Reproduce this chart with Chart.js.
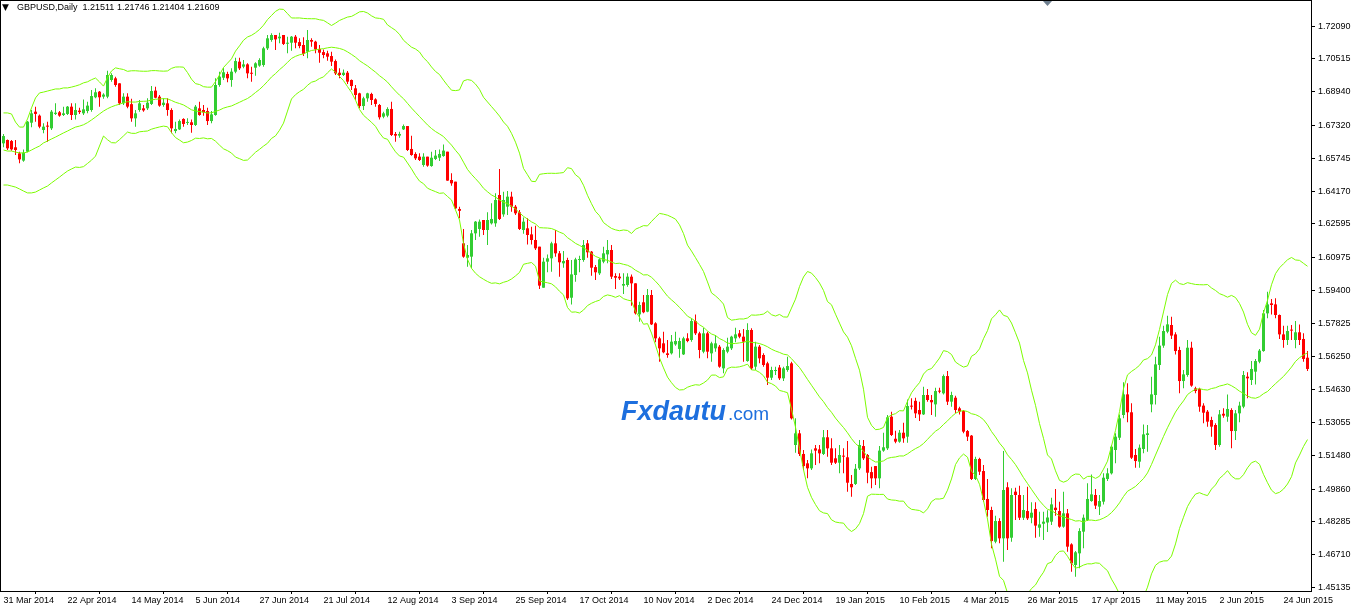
<!DOCTYPE html>
<html>
<head>
    <title>GBPUSD Daily</title>
    <meta charset="UTF-8">
    <script src="https://cdn.jsdelivr.net/npm/chart.js@4.4.1/dist/chart.umd.min.js"></script>
    <style>
        body { margin: 0; background-color: #fff; }
        canvas { display: block; }
    </style>
</head>
<body>
    <canvas id="priceChart" width="1351" height="608"></canvas>

    <script>
        // Axis labels
        var dateLabels = ['31 Mar 2014', '22 Apr 2014', '14 May 2014', '5 Jun 2014', '27 Jun 2014', '21 Jul 2014',
            '12 Aug 2014', '3 Sep 2014', '25 Sep 2014', '17 Oct 2014', '10 Nov 2014', '2 Dec 2014', '24 Dec 2014',
            '19 Jan 2015', '10 Feb 2015', '4 Mar 2015', '26 Mar 2015', '17 Apr 2015', '11 May 2015', '2 Jun 2015',
            '24 Jun 2015'];
        var priceTicks = [1.72090, 1.70515, 1.68940, 1.67320, 1.65745, 1.64170, 1.62595, 1.60975, 1.59400,
            1.57825, 1.56250, 1.54630, 1.53055, 1.51480, 1.49860, 1.48285, 1.46710, 1.45135];

        // Daily candles, one value per bar
        var opens = [
            1.6646,1.6662,1.6657,1.6627,1.6598,1.6563,1.6606,1.6745,1.6798,1.6779,
            1.6710,1.6731,1.6718,1.6787,1.6795,1.6782,1.6787,1.6822,1.6782,1.6803,
            1.6790,1.6801,1.6806,1.6867,1.6894,1.6870,1.6870,1.6950,1.6958,1.6934,
            1.6838,1.6870,1.6834,1.6766,1.6806,1.6814,1.6814,1.6835,1.6899,1.6870,
            1.6830,1.6838,1.6806,1.6705,1.6713,1.6763,1.6744,1.6747,1.6734,1.6814,
            1.6806,1.6801,1.6753,1.6782,1.6926,1.6961,1.6979,1.6950,1.6990,1.7038,
            1.7014,1.7025,1.6984,1.7009,1.7019,1.7022,1.7102,1.7142,1.7166,1.7150,
            1.7166,1.7124,1.7129,1.7158,1.7132,1.7118,1.7086,1.7142,1.7134,1.7099,
            1.7084,1.7078,1.7065,1.7041,1.6985,1.6974,1.6985,1.6950,1.6910,1.6886,
            1.6825,1.6862,1.6883,1.6857,1.6830,1.6774,1.6779,1.6811,1.6691,1.6683,
            1.6713,1.6729,1.6619,1.6595,1.6582,1.6542,1.6582,1.6537,1.6571,1.6577,
            1.6585,1.6606,1.6470,1.6462,1.6331,1.6166,1.6097,1.6102,1.6214,1.6235,
            1.6278,1.6230,1.6262,1.6262,1.6398,1.6305,1.6342,1.6390,1.6342,1.6315,
            1.6230,1.6238,1.6209,1.6182,1.6150,1.5953,1.6078,1.6094,1.6166,1.6118,
            1.6070,1.6086,1.5905,1.6014,1.6086,1.6086,1.6166,1.6126,1.6052,1.6022,
            1.6078,1.6113,1.6134,1.6009,1.6006,1.5963,1.5966,1.6006,1.5974,1.5825,
            1.5883,1.5838,1.5918,1.5782,1.5710,1.5686,1.5638,1.5638,1.5681,1.5659,
            1.5633,1.5710,1.5702,1.5793,1.5734,1.5646,1.5734,1.5638,1.5662,1.5670,
            1.5566,1.5646,1.5662,1.5710,1.5734,1.5718,1.5601,1.5750,1.5574,1.5670,
            1.5630,1.5590,1.5521,1.5553,1.5570,1.5518,1.5558,1.5590,1.5198,1.5254,
            1.5155,1.5110,1.5086,1.5182,1.5177,1.5155,1.5235,1.5182,1.5134,1.5113,
            1.5145,1.5139,1.5011,1.5011,1.5086,1.5193,1.5150,1.5068,1.5097,1.5038,
            1.5171,1.5182,1.5334,1.5228,1.5214,1.5257,1.5238,1.5385,1.5410,1.5366,
            1.5345,1.5438,1.5414,1.5393,1.5457,1.5446,1.5529,1.5406,1.5425,1.5374,
            1.5361,1.5265,1.5243,1.5035,1.5131,1.5073,1.4939,1.4886,1.4734,1.4833,
            1.4750,1.4995,1.4753,1.4974,1.4958,1.4849,1.4881,1.4849,1.4891,1.4801,
            1.4820,1.4826,1.4830,1.4897,1.4881,1.4806,1.4870,1.4721,1.4622,1.4678,
            1.4782,1.4838,1.4929,1.4958,1.4902,1.4926,1.5035,1.5062,1.5174,1.5233,
            1.5342,1.5441,1.5355,1.5150,1.5118,1.5179,1.5246,1.5393,1.5438,1.5582,
            1.5675,1.5742,1.5774,1.5729,1.5654,1.5505,1.5534,1.5665,1.5470,1.5467,
            1.5387,1.5358,1.5318,1.5294,1.5198,1.5348,1.5334,1.5366,1.5265,1.5350,
            1.5382,1.5526,1.5510,1.5550,1.5598,1.5649,1.5830,1.5878,1.5873,1.5822,
            1.5729,1.5702,1.5751,1.5702,1.5739,1.5707,1.5617
        ];
        var highs = [
            1.6691,1.6665,1.6662,1.6662,1.6606,1.6617,1.6753,1.6806,1.6822,1.6785,
            1.6742,1.6750,1.6806,1.6838,1.6801,1.6822,1.6825,1.6838,1.6838,1.6817,
            1.6857,1.6846,1.6902,1.6910,1.6897,1.6886,1.6995,1.6982,1.6966,1.6934,
            1.6886,1.6886,1.6860,1.6806,1.6854,1.6830,1.6862,1.6921,1.6918,1.6878,
            1.6862,1.6862,1.6814,1.6750,1.6761,1.6766,1.6766,1.6761,1.6830,1.6846,
            1.6830,1.6817,1.6801,1.6958,1.6990,1.7009,1.6990,1.7006,1.7057,1.7057,
            1.7046,1.7030,1.7014,1.7035,1.7054,1.7110,1.7166,1.7174,1.7166,1.7177,
            1.7166,1.7158,1.7161,1.7166,1.7150,1.7155,1.7190,1.7150,1.7139,1.7118,
            1.7097,1.7091,1.7086,1.7049,1.7006,1.7001,1.6993,1.6953,1.6926,1.6889,
            1.6870,1.6889,1.6889,1.6862,1.6835,1.6798,1.6819,1.6846,1.6700,1.6702,
            1.6737,1.6729,1.6683,1.6603,1.6598,1.6598,1.6582,1.6606,1.6614,1.6617,
            1.6641,1.6606,1.6502,1.6462,1.6342,1.6235,1.6158,1.6230,1.6273,1.6281,
            1.6278,1.6315,1.6358,1.6406,1.6523,1.6414,1.6417,1.6414,1.6350,1.6326,
            1.6290,1.6286,1.6246,1.6251,1.6150,1.6097,1.6113,1.6174,1.6230,1.6129,
            1.6129,1.6097,1.6086,1.6097,1.6107,1.6182,1.6182,1.6129,1.6062,1.6094,
            1.6150,1.6182,1.6158,1.6022,1.6022,1.6022,1.6022,1.6017,1.5974,1.5886,
            1.5918,1.5947,1.5942,1.5787,1.5718,1.5742,1.5702,1.5726,1.5742,1.5713,
            1.5718,1.5734,1.5806,1.5825,1.5742,1.5761,1.5742,1.5694,1.5726,1.5678,
            1.5662,1.5713,1.5723,1.5761,1.5750,1.5755,1.5782,1.5758,1.5694,1.5678,
            1.5638,1.5598,1.5574,1.5574,1.5582,1.5574,1.5622,1.5598,1.5326,1.5270,
            1.5174,1.5126,1.5177,1.5198,1.5198,1.5270,1.5270,1.5230,1.5182,1.5198,
            1.5182,1.5217,1.5054,1.5107,1.5222,1.5222,1.5155,1.5094,1.5097,1.5193,
            1.5257,1.5342,1.5358,1.5267,1.5270,1.5305,1.5417,1.5422,1.5425,1.5406,
            1.5478,1.5467,1.5438,1.5473,1.5473,1.5537,1.5553,1.5454,1.5435,1.5382,
            1.5366,1.5270,1.5246,1.5142,1.5137,1.5102,1.5035,1.4902,1.4859,1.4846,
            1.5169,1.5019,1.4990,1.4993,1.5003,1.4958,1.4998,1.4923,1.4923,1.4878,
            1.4878,1.4885,1.4945,1.4987,1.4926,1.4974,1.4891,1.4726,1.4689,1.4798,
            1.4865,1.5014,1.5057,1.4987,1.4958,1.5062,1.5086,1.5198,1.5254,1.5345,
            1.5499,1.5494,1.5398,1.5179,1.5201,1.5297,1.5294,1.5526,1.5622,1.5718,
            1.5771,1.5819,1.5814,1.5739,1.5670,1.5558,1.5702,1.5694,1.5478,1.5473,
            1.5398,1.5366,1.5334,1.5302,1.5366,1.5374,1.5441,1.5374,1.5366,1.5406,
            1.5553,1.5547,1.5601,1.5611,1.5659,1.5846,1.5934,1.5899,1.5902,1.5825,
            1.5771,1.5771,1.5774,1.5793,1.5777,1.5734,1.5649
        ];
        var lows = [
            1.6627,1.6614,1.6611,1.6590,1.6550,1.6558,1.6603,1.6723,1.6750,1.6718,
            1.6694,1.6654,1.6710,1.6782,1.6774,1.6777,1.6782,1.6758,1.6761,1.6787,
            1.6782,1.6790,1.6798,1.6862,1.6822,1.6860,1.6862,1.6942,1.6918,1.6830,
            1.6830,1.6814,1.6750,1.6726,1.6798,1.6798,1.6806,1.6830,1.6862,1.6822,
            1.6822,1.6779,1.6694,1.6694,1.6710,1.6726,1.6734,1.6697,1.6729,1.6779,
            1.6779,1.6734,1.6742,1.6779,1.6918,1.6950,1.6939,1.6918,1.6982,1.6998,
            1.7006,1.6958,1.6942,1.6971,1.7014,1.7014,1.7094,1.7134,1.7094,1.7126,
            1.7118,1.7078,1.7091,1.7102,1.7102,1.7065,1.7054,1.7110,1.7078,1.7033,
            1.7054,1.7043,1.7017,1.6974,1.6958,1.6969,1.6931,1.6902,1.6854,1.6814,
            1.6806,1.6846,1.6830,1.6822,1.6761,1.6766,1.6771,1.6681,1.6654,1.6673,
            1.6710,1.6609,1.6587,1.6566,1.6561,1.6534,1.6534,1.6534,1.6566,1.6561,
            1.6582,1.6467,1.6443,1.6331,1.6286,1.6097,1.6054,1.6046,1.6182,1.6198,
            1.6206,1.6158,1.6257,1.6246,1.6278,1.6294,1.6302,1.6318,1.6302,1.6230,
            1.6212,1.6161,1.6161,1.6134,1.5947,1.5953,1.6027,1.6030,1.6102,1.6006,
            1.6049,1.5894,1.5873,1.5982,1.6027,1.6078,1.6097,1.6011,1.5990,1.6014,
            1.6070,1.6070,1.5995,1.5947,1.5990,1.5923,1.5958,1.5867,1.5825,1.5790,
            1.5830,1.5835,1.5774,1.5691,1.5598,1.5638,1.5617,1.5633,1.5675,1.5617,
            1.5630,1.5691,1.5694,1.5726,1.5614,1.5638,1.5614,1.5598,1.5646,1.5569,
            1.5542,1.5638,1.5654,1.5691,1.5710,1.5598,1.5598,1.5558,1.5558,1.5590,
            1.5574,1.5486,1.5510,1.5534,1.5510,1.5505,1.5550,1.5321,1.5161,1.5145,
            1.5078,1.5038,1.5078,1.5102,1.5110,1.5150,1.5142,1.5102,1.5107,1.5062,
            1.5062,1.4974,1.4950,1.5006,1.5078,1.5126,1.5014,1.4990,1.5006,1.4990,
            1.5166,1.5174,1.5241,1.5206,1.5209,1.5209,1.5209,1.5369,1.5328,1.5313,
            1.5342,1.5406,1.5342,1.5334,1.5446,1.5441,1.5390,1.5382,1.5350,1.5345,
            1.5254,1.5217,1.5030,1.5030,1.5054,1.4926,1.4854,1.4702,1.4726,1.4726,
            1.4638,1.4694,1.4734,1.4838,1.4838,1.4838,1.4838,1.4822,1.4753,1.4758,
            1.4742,1.4780,1.4814,1.4859,1.4801,1.4801,1.4686,1.4590,1.4566,1.4606,
            1.4702,1.4833,1.4926,1.4891,1.4862,1.4913,1.5025,1.5057,1.5110,1.5222,
            1.5326,1.5307,1.5131,1.5089,1.5089,1.5158,1.5166,1.5355,1.5393,1.5558,
            1.5665,1.5734,1.5707,1.5633,1.5446,1.5470,1.5526,1.5478,1.5446,1.5358,
            1.5302,1.5286,1.5238,1.5174,1.5190,1.5329,1.5310,1.5182,1.5222,1.5307,
            1.5374,1.5422,1.5486,1.5489,1.5590,1.5646,1.5806,1.5825,1.5806,1.5707,
            1.5665,1.5678,1.5702,1.5662,1.5678,1.5598,1.5553
        ];
        var closes = [
            1.6681,1.6622,1.6617,1.6614,1.6569,1.6601,1.6750,1.6790,1.6787,1.6726,
            1.6726,1.6726,1.6798,1.6793,1.6779,1.6790,1.6822,1.6782,1.6806,1.6796,
            1.6809,1.6827,1.6873,1.6891,1.6867,1.6880,1.6974,1.6974,1.6926,1.6838,
            1.6870,1.6822,1.6766,1.6790,1.6838,1.6804,1.6841,1.6897,1.6865,1.6827,
            1.6841,1.6806,1.6718,1.6715,1.6753,1.6739,1.6747,1.6734,1.6822,1.6782,
            1.6795,1.6753,1.6785,1.6926,1.6966,1.6987,1.6958,1.6990,1.7041,1.7006,
            1.7025,1.6982,1.6980,1.7030,1.7046,1.7102,1.7150,1.7166,1.7145,1.7158,
            1.7123,1.7129,1.7158,1.7129,1.7113,1.7075,1.7142,1.7134,1.7097,1.7081,
            1.7070,1.7062,1.7038,1.6982,1.6974,1.6985,1.6942,1.6921,1.6878,1.6825,
            1.6862,1.6886,1.6854,1.6835,1.6771,1.6790,1.6811,1.6686,1.6683,1.6691,
            1.6729,1.6614,1.6590,1.6574,1.6566,1.6582,1.6539,1.6577,1.6587,1.6595,
            1.6611,1.6467,1.6454,1.6334,1.6322,1.6102,1.6110,1.6214,1.6270,1.6270,
            1.6230,1.6278,1.6283,1.6374,1.6283,1.6374,1.6390,1.6342,1.6310,1.6235,
            1.6270,1.6206,1.6182,1.6142,1.5963,1.6078,1.6094,1.6166,1.6118,1.6075,
            1.6081,1.5902,1.6017,1.6089,1.6089,1.6158,1.6123,1.6049,1.6027,1.6089,
            1.6118,1.6134,1.6006,1.6001,1.5998,1.5971,1.6006,1.5974,1.5830,1.5870,
            1.5835,1.5918,1.5777,1.5710,1.5662,1.5643,1.5630,1.5694,1.5697,1.5697,
            1.5710,1.5697,1.5793,1.5734,1.5654,1.5734,1.5646,1.5686,1.5686,1.5574,
            1.5654,1.5670,1.5718,1.5729,1.5718,1.5694,1.5750,1.5566,1.5670,1.5614,
            1.5582,1.5521,1.5558,1.5558,1.5518,1.5566,1.5577,1.5326,1.5254,1.5155,
            1.5097,1.5086,1.5158,1.5171,1.5158,1.5235,1.5182,1.5113,1.5113,1.5150,
            1.5142,1.5017,1.4995,1.5084,1.5198,1.5134,1.5065,1.5038,1.5038,1.5171,
            1.5187,1.5331,1.5246,1.5214,1.5257,1.5230,1.5385,1.5382,1.5350,1.5345,
            1.5438,1.5414,1.5403,1.5457,1.5454,1.5529,1.5406,1.5438,1.5366,1.5358,
            1.5262,1.5238,1.5035,1.5131,1.5070,1.4934,1.4886,1.4737,1.4833,1.4750,
            1.4982,1.4750,1.4958,1.4958,1.4849,1.4886,1.4846,1.4873,1.4811,1.4817,
            1.4830,1.4850,1.4913,1.4886,1.4806,1.4870,1.4710,1.4630,1.4683,1.4785,
            1.4849,1.4939,1.4961,1.4907,1.4929,1.5041,1.5062,1.5190,1.5238,1.5326,
            1.5441,1.5355,1.5137,1.5121,1.5185,1.5249,1.5254,1.5441,1.5585,1.5675,
            1.5745,1.5777,1.5723,1.5649,1.5505,1.5537,1.5665,1.5483,1.5457,1.5382,
            1.5353,1.5310,1.5286,1.5198,1.5345,1.5339,1.5371,1.5265,1.5350,1.5387,
            1.5534,1.5518,1.5563,1.5601,1.5651,1.5830,1.5873,1.5870,1.5822,1.5729,
            1.5702,1.5745,1.5747,1.5739,1.5702,1.5611,1.5563
        ];

        // Bands for the first bars (history before the chart starts is not shown)
        var upperStart = [1.6792,1.6792,1.6787,1.6748,1.6724,1.6724,1.6763,1.6816,1.6864,1.6888,
            1.6892,1.6897,1.6902,1.6907,1.6907,1.6912,1.6912,1.6916,1.6921];
        var middleStart = [1.6614,1.6609,1.6609,1.6604,1.6600,1.6600,1.6604,1.6614,1.6624,1.6633,
            1.6648,1.6657,1.6667,1.6676,1.6686,1.6696,1.6705,1.6715,1.6724];
        var lowerStart = [1.6446,1.6446,1.6441,1.6436,1.6427,1.6417,1.6408,1.6408,1.6412,1.6422,
            1.6432,1.6441,1.6456,1.6470,1.6484,1.6499,1.6513,1.6523,1.6532];

        var bandPeriod = 20, bandDev = 2.5;
        var upColor = '#32CD32', downColor = '#FF0000', bandColor = '#7CFC00';

        // Bollinger bands from the closes
        var upper = [], middle = [], lower = [];
        for (var i = 0; i < closes.length; i++) {
            if (i < bandPeriod - 1) {
                upper.push(upperStart[i]); middle.push(middleStart[i]); lower.push(lowerStart[i]);
                continue;
            }
            var win = closes.slice(i - bandPeriod + 1, i + 1);
            var mean = win.reduce(function (a, b) { return a + b; }, 0) / bandPeriod;
            var sd = Math.sqrt(win.reduce(function (a, b) { return a + (b - mean) * (b - mean); }, 0) / bandPeriod);
            upper.push(mean + bandDev * sd); middle.push(mean); lower.push(mean - bandDev * sd);
        }

        var candleColors = closes.map(function (c, i) { return c >= opens[i] ? upColor : downColor; });

        function lineSet(values) {
            return {
                type: 'line',
                data: values.map(function (v, i) { return { x: i, y: v }; }),
                borderColor: bandColor, borderWidth: 1, pointRadius: 0, tension: 0, order: 0
            };
        }

        function noPadding(s) {
            s.paddingTop = 0; s.paddingBottom = 0; s.paddingLeft = 0; s.paddingRight = 0;
        }

        // Frame, title and watermark
        var extras = {
            id: 'extras',
            afterDraw: function (chart) {
                var ctx = chart.ctx, a = chart.chartArea;
                ctx.save();
                ctx.strokeStyle = '#000';
                ctx.lineWidth = 1;
                ctx.strokeRect(a.left - 0.5, a.top - 0.5, a.right - a.left + 1, a.bottom - a.top + 1);

                ctx.fillStyle = '#000';
                ctx.font = '9px "DejaVu Sans"';
                ctx.textBaseline = 'middle';
                ctx.fillText('▼', 2, 8);
                ctx.font = '9px "Liberation Sans"';
                ctx.fillText('GBPUSD,Daily  1.21511 1.21746 1.21404 1.21609', 17, 8);

                ctx.fillStyle = '#6e7f8f';
                ctx.beginPath();
                ctx.moveTo(1043, 1); ctx.lineTo(1052, 1); ctx.lineTo(1047.5, 6); ctx.closePath();
                ctx.fill();

                ctx.textBaseline = 'alphabetic';
                ctx.fillStyle = '#1d6fde';
                ctx.font = 'italic bold 27px "Liberation Sans"';
                ctx.fillText('Fxdautu', 621, 420);
                var w = ctx.measureText('Fxdautu').width;
                ctx.font = '19px "Liberation Sans"';
                ctx.fillText('.com', 621 + w + 2, 420);
                ctx.restore();
            }
        };

        new Chart(document.getElementById('priceChart'), {
            type: 'bar',
            data: {
                datasets: [
                    lineSet(upper), lineSet(middle), lineSet(lower),
                    {
                        data: opens.map(function (o, i) { return { x: i, y: [o, closes[i]] }; }),
                        backgroundColor: candleColors, barThickness: 3, minBarLength: 1,
                        borderWidth: 0, inflateAmount: 0, grouped: false, order: 1
                    },
                    {
                        data: lows.map(function (l, i) { return { x: i, y: [l, highs[i]] }; }),
                        backgroundColor: candleColors, barThickness: 1,
                        borderWidth: 0, inflateAmount: 0, grouped: false, order: 2
                    }
                ]
            },
            options: {
                responsive: false,
                animation: false,
                layout: { padding: { left: 1, top: 1, right: 0, bottom: 0 } },
                plugins: { legend: { display: false }, tooltip: { enabled: false } },
                scales: {
                    x: {
                        type: 'linear', min: -0.625, max: 326.875, offset: false,
                        grid: { drawOnChartArea: false, drawTicks: true, tickLength: 3, color: '#000' },
                        border: { display: false },
                        afterBuildTicks: function (s) {
                            s.ticks = dateLabels.map(function (_, k) { return { value: k * 16 }; });
                        },
                        afterFit: function (s) { s.height = 17; noPadding(s); },
                        ticks: {
                            autoSkip: false, maxRotation: 0, minRotation: 0, align: 'start', padding: 1,
                            color: '#000', font: { family: 'Liberation Sans', size: 9 },
                            callback: function (v, idx) { return dateLabels[idx]; }
                        }
                    },
                    y: {
                        position: 'right', min: 1.44972, max: 1.73292,
                        grid: { drawOnChartArea: false, drawTicks: true, tickLength: 4, color: '#000' },
                        border: { display: false },
                        afterBuildTicks: function (s) {
                            s.ticks = priceTicks.map(function (v) { return { value: v }; });
                        },
                        afterFit: function (s) { s.width = 40; noPadding(s); },
                        ticks: {
                            padding: 3, color: '#000', font: { family: 'Liberation Sans', size: 9 },
                            callback: function (v) { return v.toFixed(5); }
                        }
                    }
                }
            },
            plugins: [extras]
        });
    </script>
</body>
</html>
